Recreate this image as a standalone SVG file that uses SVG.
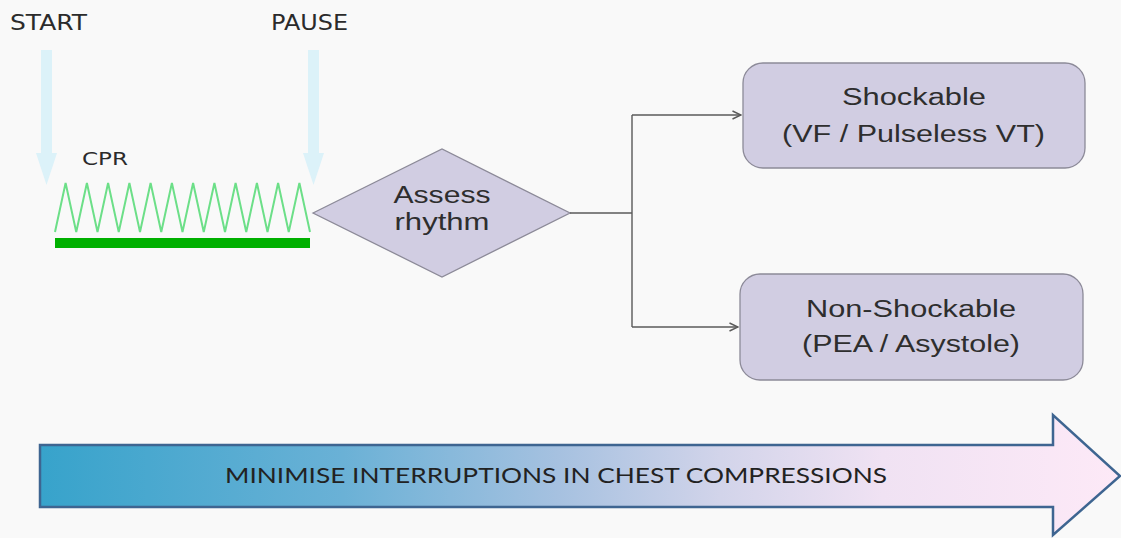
<svg xmlns="http://www.w3.org/2000/svg" width="1121" height="538" viewBox="0 0 1121 538">
  <style>
    .lbl { font-family: "DejaVu Sans", Verdana, sans-serif; fill: #2b2b2b; }
    .node-text { font-family: "Liberation Sans", Arial, sans-serif; font-size: 23px; fill: #2e2e2e; text-anchor: middle; }
    .node-shape { fill: #d1cde2; stroke: #8c8a98; stroke-width: 1.3; }
    .cue { fill: #dcf2f9; }
    .conn { fill: none; stroke: #5a5a5a; stroke-width: 1.4; }
    .banner-text { font-family: Lato, "Open Sans", sans-serif; font-size: 21px; fill: #222; }
  </style>
  <defs>
    <marker id="chevron" viewBox="0 0 10 10" refX="9.5" refY="5" markerWidth="10" markerHeight="10" markerUnits="userSpaceOnUse" orient="auto">
      <path d="M1,1 L9.5,5 L1,9" fill="none" stroke="#5a5a5a" stroke-width="1.4"/>
    </marker>
    <linearGradient id="bannerFill" x1="40" y1="0" x2="1120" y2="0" gradientUnits="userSpaceOnUse">
      <stop offset="0" stop-color="#37a3cb"/>
      <stop offset="0.28" stop-color="#6ab1d6"/>
      <stop offset="0.48" stop-color="#a6c1e0"/>
      <stop offset="0.63" stop-color="#d2d4ea"/>
      <stop offset="0.78" stop-color="#f0e2f3"/>
      <stop offset="1" stop-color="#fde9f7"/>
    </linearGradient>
  </defs>

  <rect width="1121" height="538" fill="#f9f9f9"/>

  <!-- timing cues -->
  <g id="start">
    <text class="lbl" x="10" y="30" font-size="21" textLength="77" lengthAdjust="spacingAndGlyphs">START</text>
    <polygon class="cue" points="41,50 52,50 52,153 57,153 46.5,185 36,153 41,153"/>
  </g>
  <g id="pause">
    <text class="lbl" x="271" y="30" font-size="21" textLength="77" lengthAdjust="spacingAndGlyphs">PAUSE</text>
    <polygon class="cue" points="308,50 319,50 319,153 324,153 313.5,185 303,153 308,153"/>
  </g>

  <!-- compressions trace -->
  <g id="cpr">
    <text class="lbl" x="82" y="165" font-size="18" textLength="46" lengthAdjust="spacingAndGlyphs">CPR</text>
    <polyline fill="none" stroke="#6cdf88" stroke-width="2" stroke-linejoin="miter"
      points="55,232 65.6,183 76.25,232 86.9,183 97.5,232 108.1,183 118.75,232 129.4,183 140,232 150.6,183 161.25,232 171.9,183 182.5,232 193.1,183 203.75,232 214.4,183 225,232 235.6,183 246.25,232 256.9,183 267.5,232 278.1,183 288.75,232 299.4,183 310,232"/>
    <rect x="55" y="238" width="255" height="10" fill="#00b000"/>
  </g>

  <!-- decision -->
  <g id="assess">
    <polygon class="node-shape" points="313,213 442,149 570,213 442,277"/>
    <text class="node-text" x="442" y="203" textLength="97" lengthAdjust="spacingAndGlyphs">Assess</text>
    <text class="node-text" x="442" y="230" textLength="95" lengthAdjust="spacingAndGlyphs">rhythm</text>
  </g>

  <g id="shockable">
    <rect class="node-shape" x="743" y="63" width="342" height="105" rx="20"/>
    <text class="node-text" x="914" y="105" textLength="144" lengthAdjust="spacingAndGlyphs">Shockable</text>
    <text class="node-text" x="913.5" y="142" textLength="263" lengthAdjust="spacingAndGlyphs">(VF / Pulseless VT)</text>
  </g>

  <g id="non-shockable">
    <rect class="node-shape" x="740" y="274" width="343" height="106" rx="20"/>
    <text class="node-text" x="911" y="317" textLength="210" lengthAdjust="spacingAndGlyphs">Non-Shockable</text>
    <text class="node-text" x="911" y="352" textLength="218" lengthAdjust="spacingAndGlyphs">(PEA / Asystole)</text>
  </g>

  <!-- connectors -->
  <g id="connectors">
    <path class="conn" d="M570,213 H632"/>
    <path class="conn" d="M632,115 V327"/>
    <path class="conn" d="M632,115 H741" marker-end="url(#chevron)"/>
    <path class="conn" d="M632,327 H738" marker-end="url(#chevron)"/>
  </g>

  <!-- banner arrow -->
  <g id="banner">
    <polygon points="40,445 1053,445 1053,415 1120,476 1053,535 1053,507 40,507" fill="url(#bannerFill)" stroke="#3e6591" stroke-width="2.5" stroke-linejoin="miter"/>
    <text class="banner-text" x="225" y="483" textLength="662" lengthAdjust="spacingAndGlyphs">MINIMISE INTERRUPTIONS IN CHEST COMPRESSIONS</text>
  </g>
</svg>
